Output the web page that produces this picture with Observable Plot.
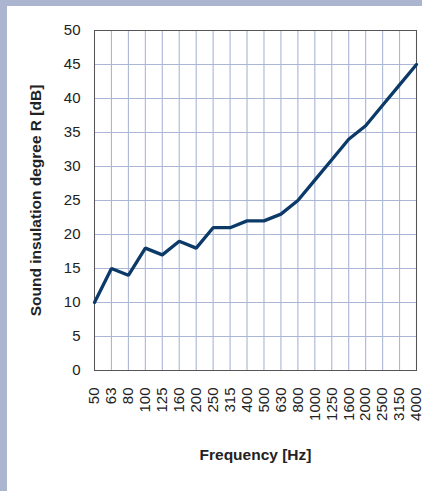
<!DOCTYPE html>
<html>
<head>
<meta charset="utf-8">
<script src="https://cdn.jsdelivr.net/npm/d3@7"></script>
<script src="https://cdn.jsdelivr.net/npm/@observablehq/plot@0.6"></script>
<style>
  html, body { margin: 0; padding: 0; background: #abb5d0; width: 422px; height: 491px; overflow: hidden; }
  #panel { position: absolute; left: 7px; top: 6px; width: 415px; height: 485px; background: #ffffff; }
  svg { font-family: "Liberation Sans", Arial, sans-serif; overflow: visible; }
</style>
</head>
<body>
<div id="panel"></div>
<script>
const frequencies = ["50","63","80","100","125","160","200","250","315","400","500","630","800","1000","1250","1600","2000","2500","3150","4000"];
const insulation = [10,15,14,18,17,19,18,21,21,22,22,23,25,28,31,34,36,39,42,45];
const yTicks = [0,5,10,15,20,25,30,35,40,45,50];

const idx = frequencies.map((f, i) => i);
const data = frequencies.map((f, i) => ({i, f, r: insulation[i]}));

const chart = Plot.plot({
  width: 415,
  height: 485,
  marginLeft: 87,
  marginRight: 6,
  marginTop: 24,
  marginBottom: 121,
  style: {fontSize: "15px", fontFamily: "'Liberation Sans', Arial, sans-serif", color: "#222", background: "transparent", overflow: "visible"},
  x: {type: "linear", domain: [0, frequencies.length - 1], label: null},
  y: {domain: [0, 50], ticks: yTicks, label: null},
  marks: [
    Plot.ruleX(idx, {x: d => d, stroke: "#abb6d6", strokeWidth: 1.1, strokeOpacity: 1}),
    Plot.ruleY(yTicks, {y: d => d, stroke: "#abb6d6", strokeWidth: 1.1, strokeOpacity: 1}),
    Plot.frame({stroke: "#555", strokeWidth: 1}),
    Plot.axisY({ticks: yTicks, tickSize: 0, tickPadding: 14, fontSize: 15, label: null}),
    Plot.axisX({ticks: idx, tickFormat: i => frequencies[i], tickSize: 0, tickRotate: -90, tickPadding: 17, fontSize: 15, label: null}),
    Plot.line(data, {x: "i", y: "r", stroke: "#0c3a68", strokeWidth: 3.3, strokeLinejoin: "miter"}),
    Plot.text(["Sound insulation degree R [dB]"], {frameAnchor: "left", dx: -58, rotate: -90, textAnchor: "middle", fontSize: 15.5, fontWeight: "bold", fill: "#222"}),
    Plot.text(["Frequency [Hz]"], {frameAnchor: "bottom", dy: 89, fontSize: 15.5, fontWeight: "bold", fill: "#222"})
  ]
});
document.getElementById("panel").appendChild(chart);
</script>
</body>
</html>
